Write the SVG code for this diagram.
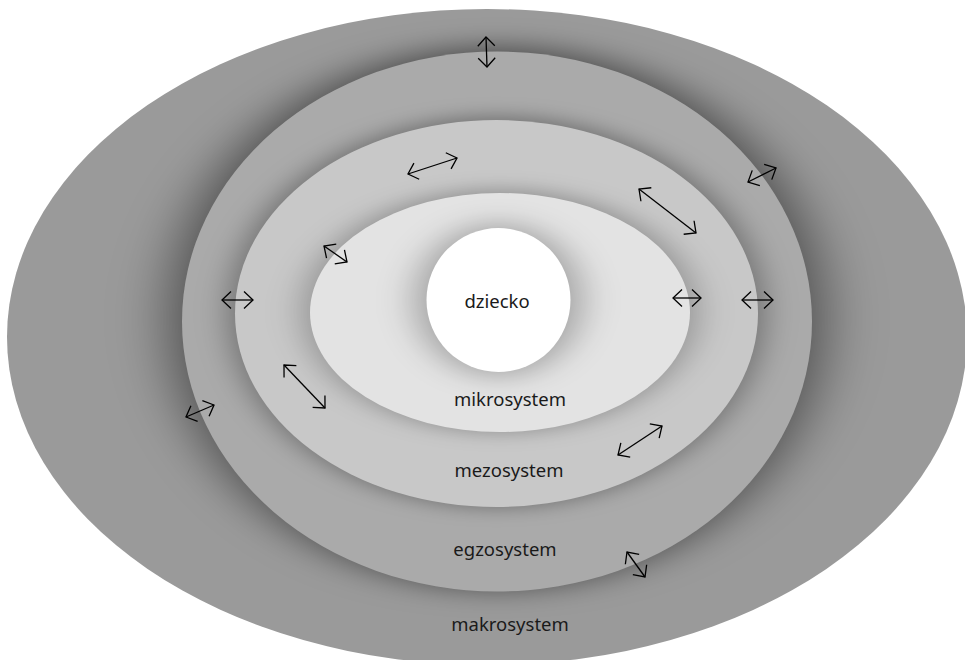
<svg xmlns="http://www.w3.org/2000/svg" width="965" height="660" viewBox="0 0 965 660">
<style>
.lbl{font-family:"Noto Sans","DejaVu Sans",sans-serif;font-size:18.5px;fill:#1a1a1a;text-anchor:middle}
.arr{fill:none;stroke:#000;stroke-width:1.3;marker-start:url(#ah);marker-end:url(#ah)}
</style>
<defs>
<marker id="ah" markerUnits="userSpaceOnUse" viewBox="-12 -11 14 22" markerWidth="14" markerHeight="22" refX="0" refY="0" orient="auto-start-reverse" overflow="visible">
<path d="M-9,-8.5 L0,0 L-9,8.5" fill="none" stroke="#000" stroke-width="1.3"/>
</marker>
<filter id="blurA" x="-30%" y="-30%" width="160%" height="160%"><feGaussianBlur stdDeviation="30 13"/></filter>
<filter id="blurB" x="-30%" y="-30%" width="160%" height="160%"><feGaussianBlur stdDeviation="16 9"/></filter>
<filter id="blurC" x="-30%" y="-30%" width="160%" height="160%"><feGaussianBlur stdDeviation="18 9"/></filter>
<filter id="blurD" x="-50%" y="-50%" width="200%" height="200%"><feGaussianBlur stdDeviation="18 12"/></filter>
<clipPath id="cMakro"><ellipse cx="487" cy="337" rx="480" ry="328"/></clipPath>
<clipPath id="cEgzo"><ellipse cx="497" cy="321.5" rx="315" ry="270"/></clipPath>
<clipPath id="cMezo"><ellipse cx="496.5" cy="313.5" rx="261.5" ry="193.5"/></clipPath>
<clipPath id="cMikro"><ellipse cx="500" cy="312.5" rx="190" ry="119.5"/></clipPath>
</defs>
<rect width="965" height="660" fill="#ffffff"/>
<g id="makrosystem">
<ellipse cx="487" cy="337" rx="480" ry="328" fill="#9a9a9a"/>
<text class="lbl" x="510" y="631">makrosystem</text>
</g>
<g id="egzosystem">
<g clip-path="url(#cMakro)"><ellipse cx="497" cy="318" rx="325" ry="272" fill="#000" fill-opacity="0.5" filter="url(#blurA)"/></g>
<ellipse cx="497" cy="321.5" rx="315" ry="270" fill="#aaaaaa"/>
<text class="lbl" x="505" y="556">egzosystem</text>
</g>
<g id="mezosystem">
<g clip-path="url(#cEgzo)"><ellipse cx="496.5" cy="312" rx="268" ry="196" fill="#000" fill-opacity="0.33" filter="url(#blurB)"/></g>
<ellipse cx="496.5" cy="313.5" rx="261.5" ry="193.5" fill="#c8c8c8"/>
<text class="lbl" x="509" y="477">mezosystem</text>
</g>
<g id="mikrosystem">
<g clip-path="url(#cMezo)"><ellipse cx="500" cy="311" rx="196" ry="122" fill="#000" fill-opacity="0.27" filter="url(#blurC)"/></g>
<ellipse cx="500" cy="312.5" rx="190" ry="119.5" fill="#e3e3e3"/>
<text class="lbl" x="510" y="406">mikrosystem</text>
</g>
<g id="dziecko">
<g clip-path="url(#cMikro)"><ellipse cx="498.5" cy="300" rx="84" ry="76" fill="#000" fill-opacity="0.28" filter="url(#blurD)"/></g>
<circle cx="498.5" cy="300" r="72" fill="#ffffff"/>
<text class="lbl" x="497" y="308">dziecko</text>
</g>
<g id="connectors">
<line class="arr" x1="486" y1="37" x2="487" y2="67"/>
<line class="arr" x1="408" y1="174" x2="457" y2="158"/>
<line class="arr" x1="639" y1="189" x2="696" y2="233"/>
<line class="arr" x1="748" y1="182" x2="776" y2="168"/>
<line class="arr" x1="673" y1="298" x2="701" y2="298"/>
<line class="arr" x1="742" y1="300" x2="773" y2="300"/>
<line class="arr" x1="324" y1="246" x2="347" y2="262"/>
<line class="arr" x1="222" y1="300" x2="253" y2="300"/>
<line class="arr" x1="284" y1="365" x2="325" y2="408"/>
<line class="arr" x1="186" y1="417" x2="214" y2="405"/>
<line class="arr" x1="618" y1="455" x2="662" y2="426"/>
<line class="arr" x1="627" y1="552" x2="645" y2="577"/>
</g>
</svg>
